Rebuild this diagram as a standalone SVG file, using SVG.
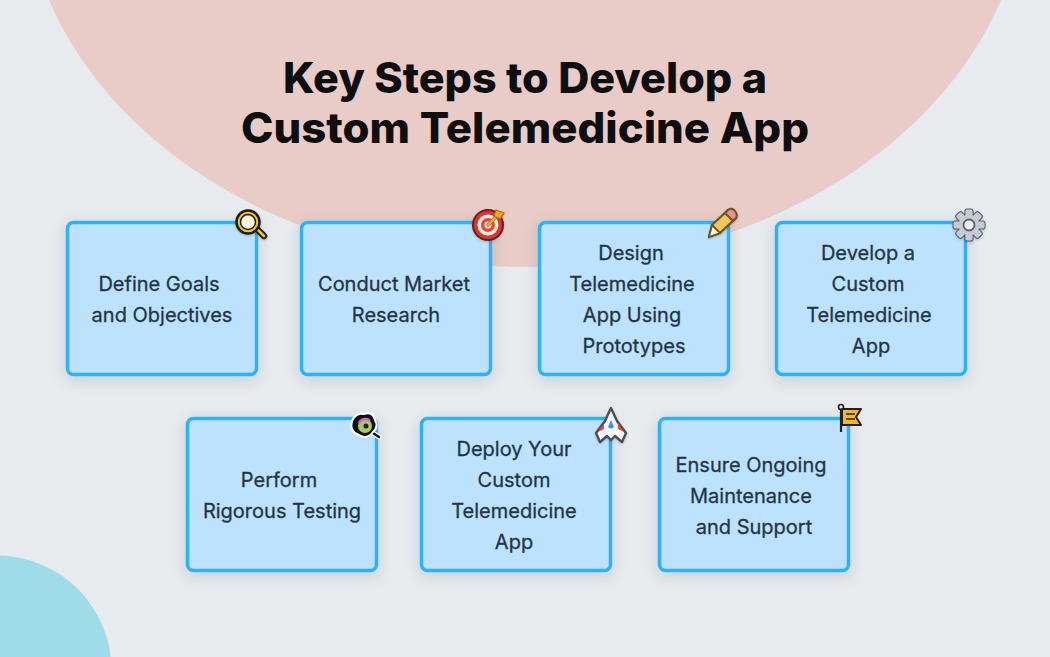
<svg xmlns="http://www.w3.org/2000/svg" width="1050" height="657" viewBox="0 0 1050 657">
<defs>
<filter id="sh" x="-20%" y="-20%" width="140%" height="140%"><feDropShadow dx="0" dy="4" stdDeviation="7" flood-color="#334155" flood-opacity="0.17"/></filter>
<filter id="ic" x="-30%" y="-30%" width="160%" height="160%"><feDropShadow dx="0" dy="1" stdDeviation="1.200" flood-color="#334155" flood-opacity="0.3"/></filter>
<rect id="tooth" x="-3.600" y="-15.500" width="7.200" height="8" rx="1.800"/>
</defs>
<style>
.card{fill:#bde2ff;stroke:#2fb2f4;stroke-width:3.5;filter:url(#sh)}
.t{font-family:"Inter","Liberation Sans",sans-serif;font-size:20px;font-weight:400;fill:#243447;text-anchor:middle;stroke:#243447;stroke-width:0.3}
.h{font-family:"Inter","Liberation Sans",sans-serif;font-size:42px;font-weight:800;fill:#0f0f10;text-anchor:middle}
.ts{fill:#c6cbd3;stroke:#5a5f68;stroke-width:2}
.tf{fill:#c6cbd3}
</style>
<rect width="1050" height="657" fill="#e7ebee"/>
<ellipse cx="525" cy="-124" rx="502" ry="391" fill="#e9ccc7"/>
<circle cx="-3" cy="670" r="114.500" fill="#9fdce7"/>
<g id="title"><text class="h" x="525" y="93" textLength="484" lengthAdjust="spacingAndGlyphs">Key Steps to Develop a</text><text class="h" x="525" y="143" textLength="568" lengthAdjust="spacingAndGlyphs">Custom Telemedicine App</text></g>

<g id="node1"><rect class="card" x="67.500" y="222.500" width="189" height="152" rx="6"/>
<text class="t" x="159" y="291">Define Goals</text><text class="t" x="162" y="322">and Objectives</text>
<g filter="url(#ic)"><path d="M256 228L264 236" stroke="#1d1d1d" stroke-width="6.500" stroke-linecap="round"/><path d="M256 228L264 236" stroke="#f2c230" stroke-width="2.500" stroke-linecap="round"/><circle cx="248" cy="222" r="11.500" fill="#f2c230" stroke="#1d1d1d" stroke-width="2.500"/><circle cx="248" cy="222" r="7.500" fill="#fdf3dc" stroke="#1d1d1d" stroke-width="1.500"/></g></g>

<g id="node2"><rect class="card" x="301.500" y="222.500" width="189" height="152" rx="6"/>
<text class="t" x="394" y="291">Conduct Market</text><text class="t" x="396" y="322">Research</text>
<g filter="url(#ic)"><circle cx="488" cy="225" r="15" fill="#d8392f" stroke="#6d1f1a" stroke-width="2"/><circle cx="488" cy="225" r="10.500" fill="#fbe9e5"/><circle cx="488" cy="225" r="7" fill="#e24a3e"/><circle cx="488" cy="225" r="3.500" fill="#fbe9e5"/><path d="M488 225L499 214" stroke="#b06a18" stroke-width="3.500" stroke-linecap="round"/><path d="M488 225L498 215" stroke="#f5b041" stroke-width="1.800" stroke-linecap="round"/><path d="M496 210L504 213L500 219L494 216Z" fill="#f5a623" stroke="#b06a18" stroke-width="1.200"/></g></g>

<g id="node3"><rect class="card" x="539.500" y="222.500" width="189" height="152" rx="6"/>
<text class="t" x="631" y="260">Design</text><text class="t" x="632" y="291">Telemedicine</text><text class="t" x="632" y="322">App Using</text><text class="t" x="634" y="353">Prototypes</text>
<g filter="url(#ic)"><path d="M709 237L712 225L728 210L736 218L720 233Z" fill="#f3c65a" stroke="#6b5420" stroke-width="2.200" stroke-linejoin="round"/><path d="M725 213L728 210Q732 207 735 211Q738 215 736 218L733 221Z" fill="#ef8f8a" stroke="#6b5420" stroke-width="2"/><path d="M709 237L712 225L720 233Z" fill="#fbf2dc" stroke="#6b5420" stroke-width="1.800" stroke-linejoin="round"/></g></g>

<g id="node4"><rect class="card" x="776.500" y="222.500" width="189" height="152" rx="6"/>
<text class="t" x="868" y="260">Develop a</text><text class="t" x="868" y="291">Custom</text><text class="t" x="869" y="322">Telemedicine</text><text class="t" x="871" y="353">App</text>
<g filter="url(#ic)" transform="translate(969 225)">
<use href="#tooth" class="ts"/><use href="#tooth" class="ts" transform="rotate(45)"/><use href="#tooth" class="ts" transform="rotate(90)"/><use href="#tooth" class="ts" transform="rotate(135)"/><use href="#tooth" class="ts" transform="rotate(180)"/><use href="#tooth" class="ts" transform="rotate(225)"/><use href="#tooth" class="ts" transform="rotate(270)"/><use href="#tooth" class="ts" transform="rotate(315)"/>
<circle r="11" class="ts"/>
<use href="#tooth" class="tf"/><use href="#tooth" class="tf" transform="rotate(45)"/><use href="#tooth" class="tf" transform="rotate(90)"/><use href="#tooth" class="tf" transform="rotate(135)"/><use href="#tooth" class="tf" transform="rotate(180)"/><use href="#tooth" class="tf" transform="rotate(225)"/><use href="#tooth" class="tf" transform="rotate(270)"/><use href="#tooth" class="tf" transform="rotate(315)"/>
<circle r="5.500" fill="#eef0f3" stroke="#5a5f68" stroke-width="1.800"/></g></g>

<g id="node5"><rect class="card" x="187.500" y="418.500" width="189" height="152" rx="6"/>
<text class="t" x="279" y="487">Perform</text><text class="t" x="282" y="518">Rigorous Testing</text>
<g><path d="M370 431L379 437" stroke="#fff" stroke-width="5" stroke-linecap="round"/><path d="M370 431L379 437" stroke="#111" stroke-width="2.500" stroke-linecap="round"/><path d="M352 421Q356 412 364 414Q373 411 375 420Q379 427 373 432Q367 440 359 435Q349 432 352 421Z" fill="#111" stroke="#fff" stroke-width="2"/><circle cx="365" cy="426" r="7" fill="#a7c96a"/><path d="M359 423A7 7 0 0 1 370 421" fill="none" stroke="#d66ac8" stroke-width="2.500"/><circle cx="366" cy="426" r="2.500" fill="#222"/></g></g>

<g id="node6"><rect class="card" x="421.500" y="418.500" width="189" height="152" rx="6"/>
<text class="t" x="514" y="456">Deploy Your</text><text class="t" x="514" y="487">Custom</text><text class="t" x="514" y="518">Telemedicine</text><text class="t" x="514" y="549">App</text>
<g filter="url(#ic)"><path d="M611 408L617 421L626 433L622 442L615 436L611 440L607 436L600 442L596 433L605 421Z" fill="#f4f5f7" stroke="#4a4f58" stroke-width="2.400" stroke-linejoin="round"/><path d="M604 423L598 432L604 429ZM618 423L624 432L618 429Z" fill="#e4473d"/><path d="M611 420L614 427Q611 430 608 427Z" fill="#4b8fe0"/></g></g>

<g id="node7"><rect class="card" x="659.500" y="418.500" width="189" height="152" rx="6"/>
<text class="t" x="751" y="472">Ensure Ongoing</text><text class="t" x="751" y="503">Maintenance</text><text class="t" x="754" y="534">and Support</text>
<g><path d="M841 408V432" stroke="#222" stroke-width="2.200"/><circle cx="841" cy="407" r="2.500" fill="#f3f1ea" stroke="#222" stroke-width="1.600"/><path d="M842 409H861L856 417L861 425H842Z" fill="#f7b52c" stroke="#222" stroke-width="2" stroke-linejoin="round"/><path d="M846 414H855M846 419H855" stroke="#222" stroke-width="1.500"/></g></g>
<g id="connectors"></g>
</svg>
